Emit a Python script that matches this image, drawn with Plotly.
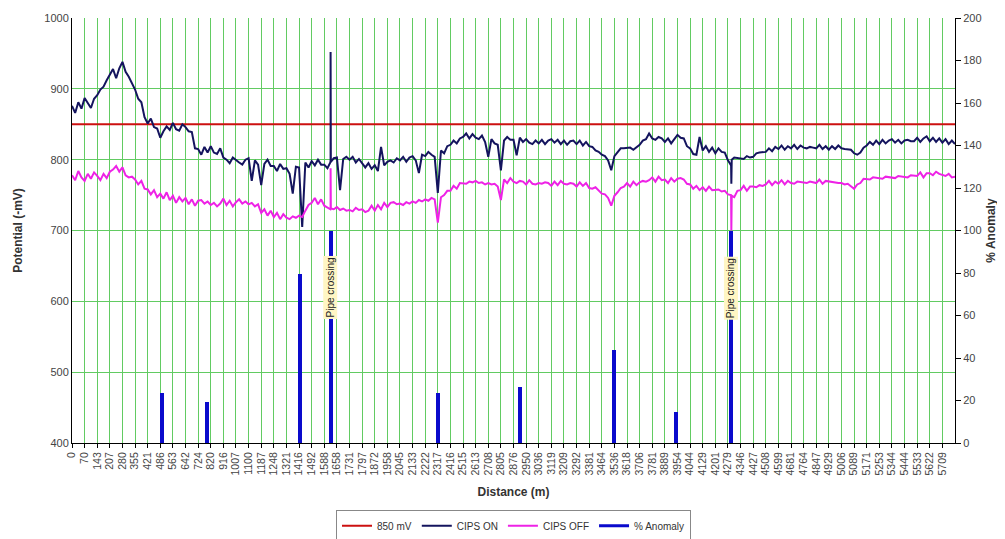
import numpy as np
import plotly.graph_objects as go

# ---- category tick labels (distance, m) ----
dist_labels = ["0", "70", "143", "207", "280", "355", "421", "486", "563", "642", "724", "820",
               "916", "1007", "1100", "1187", "1248", "1321", "1416", "1492", "1588", "1658",
               "1731", "1797", "1872", "1958", "2045", "2133", "2222", "2317", "2416", "2515",
               "2613", "2708", "2805", "2876", "2950", "3036", "3119", "3209", "3292", "3381",
               "3464", "3536", "3618", "3706", "3781", "3889", "3954", "4044", "4129", "4201",
               "4279", "4346", "4427", "4508", "4599", "4681", "4764", "4847", "4929", "5006",
               "5089", "5171", "5253", "5344", "5444", "5533", "5622", "5709"]

# ---- CIPS ON potential (-mV), 4 readings per labelled interval ----
cips_on = [876, 866, 881, 872, 887, 880, 873, 886, 891, 899, 903, 912, 920, 928, 915, 929,
           938, 924, 917, 908, 899, 886, 881, 860, 851, 858, 846, 844, 831, 840, 847, 842,
           852, 843, 841, 850, 846, 840, 839, 816, 815, 807, 818, 810, 819, 810, 808, 816,
           803, 800, 795, 803, 799, 796, 793, 800, 802, 770, 799, 793, 764, 794, 800, 791,
           791, 784, 794, 787, 788, 780, 752, 790, 789, 705, 796, 789, 798, 792, 800, 793,
           793, 788, 799, 802, 803, 757, 801, 804, 800, 804, 796, 801, 795, 789, 795, 787,
           792, 784, 818, 792, 797, 799, 796, 802, 799, 804, 797, 803, 805, 799, 781, 807,
           805, 811, 807, 804, 753, 813, 809, 819, 821, 827, 823, 830, 832, 837, 830, 836,
           831, 829, 834, 825, 804, 829, 823, 821, 785, 827, 832, 828, 828, 806, 831, 825,
           829, 824, 822, 827, 823, 828, 822, 827, 829, 824, 828, 822, 827, 821, 826, 827,
           822, 827, 820, 825, 819, 818, 813, 811, 807, 805, 799, 785, 805, 811, 816, 816,
           817, 817, 814, 818, 821, 827, 829, 837, 830, 828, 832, 830, 825, 830, 823, 829,
           835, 831, 830, 819, 816, 808, 807, 832, 813, 819, 811, 817, 809, 816, 811, 810,
           799, 791, 803, 802, 802, 801, 805, 803, 804, 809, 810, 810, 811, 816, 812, 818,
           815, 820, 814, 819, 816, 821, 815, 820, 817, 816, 818, 817, 816, 821, 815, 819,
           814, 819, 815, 820, 816, 815, 815, 814, 809, 807, 810, 817, 820, 825, 821, 827,
           822, 828, 823, 827, 829, 824, 828, 823, 827, 828, 826, 826, 831, 825, 830, 833,
           826, 831, 825, 830, 824, 829, 822, 827, 822]

# ---- CIPS OFF potential (-mV) ----
cips_off = [778, 771, 784, 775, 770, 780, 773, 782, 777, 771, 780, 774, 783, 786, 791, 783,
            789, 778, 775, 776, 772, 765, 770, 759, 758, 751, 757, 747, 752, 745, 754, 743,
            749, 739, 747, 741, 746, 737, 744, 735, 742, 743, 738, 741, 736, 739, 734, 738,
            745, 736, 742, 734, 740, 744, 738, 741, 737, 739, 734, 737, 725, 730, 721, 728,
            719, 725, 716, 723, 718, 716, 720, 718, 721, 719, 728, 736, 739, 746, 737, 744,
            735, 732, 732, 730, 733, 729, 731, 728, 729, 727, 732, 729, 730, 726, 728, 735,
            728, 736, 730, 739, 733, 739, 740, 737, 738, 736, 740, 738, 741, 739, 743, 741,
            744, 742, 746, 744, 711, 747, 750, 756, 756, 763, 759, 767, 767, 766, 769, 768,
            770, 767, 768, 765, 767, 765, 766, 762, 743, 772, 767, 774, 769, 767, 770, 769,
            765, 771, 766, 765, 767, 766, 768, 767, 763, 769, 764, 770, 766, 765, 767, 766,
            762, 768, 763, 767, 760, 759, 761, 757, 752, 751, 746, 735, 749, 754, 760, 762,
            767, 762, 769, 764, 768, 770, 769, 771, 775, 769, 776, 771, 772, 767, 774, 769,
            773, 774, 772, 766, 765, 759, 763, 757, 761, 756, 762, 757, 757, 758, 755, 756,
            751, 748, 747, 756, 757, 763, 756, 762, 762, 761, 764, 763, 765, 770, 764, 769,
            766, 771, 765, 770, 767, 766, 769, 768, 768, 767, 769, 768, 767, 772, 766, 770,
            769, 768, 768, 767, 767, 765, 766, 763, 759, 765, 767, 773, 773, 772, 775, 774,
            774, 773, 776, 775, 775, 774, 777, 776, 776, 775, 778, 777, 777, 782, 775, 781,
            781, 778, 783, 780, 779, 777, 780, 775, 776]

# ---- narrow spikes at the pipe crossings (category position, value) ----
on_spike_x = [20.48, 20.50, 20.52, 52.24, 52.27, 52.30]
on_spike_v = [796, 952, 797, 792, 766, 800]
off_spike_x = [20.48, 20.50, 20.52, 52.24, 52.27, 52.30]
off_spike_v = [730, 788, 731, 750, 700, 749]

# ---- % anomaly bars ----
anom_pos = [7.1, 10.67, 18.07, 20.5, 29.0, 35.5, 43.0, 47.86, 52.27]
anom_val = [23.5, 19.5, 79.5, 100, 23.5, 26.5, 44, 14.5, 100]

threshold_mv = 850
pipe_crossings = [20.5, 52.27]

# ---- build series ----
grid_x = np.arange(len(cips_on)) * 0.25


def merge(xs, vs, sx, sv):
    x = np.concatenate([xs, np.array(sx)])
    v = np.concatenate([np.array(vs, dtype=float), np.array(sv, dtype=float)])
    o = np.argsort(x, kind="stable")
    return x[o], v[o]


on_x, on_v = merge(grid_x, cips_on, on_spike_x, on_spike_v)
off_x, off_v = merge(np.arange(len(cips_off)) * 0.25, cips_off, off_spike_x, off_spike_v)

GRID = "#62CB62"
FONT = "Liberation Sans, Arial, sans-serif"

fig = go.Figure()
fig.add_trace(go.Scatter(x=[0, len(dist_labels)], y=[threshold_mv, threshold_mv], mode="lines",
                         line=dict(color="#CC1010", width=2), name="850 mV"))
fig.add_trace(go.Scatter(x=on_x, y=on_v, mode="lines", line=dict(color="#14145E", width=2),
                         name="CIPS ON"))
fig.add_trace(go.Scatter(x=off_x, y=off_v, mode="lines", line=dict(color="#EE22E6", width=2),
                         name="CIPS OFF"))
fig.add_trace(go.Bar(x=anom_pos, y=anom_val, width=0.32, marker=dict(color="#0A0ACC", line_width=0),
                     yaxis="y2", name="% Anomaly", showlegend=False))
fig.add_trace(go.Scatter(x=[None], y=[None], mode="lines", line=dict(color="#0A0ACC", width=3),
                         name="% Anomaly", yaxis="y2"))

for p in pipe_crossings:
    fig.add_annotation(x=p, y=73, xref="x", yref="y2", text="Pipe crossing", textangle=-90,
                       showarrow=False, bgcolor="#FFF6C4", borderpad=1,
                       font=dict(size=10, color="#222", family=FONT))

# the page adds an 8 px body margin, so the figure is 8 px smaller each way
fig.update_layout(
    width=997, height=531,
    margin=dict(l=64, r=50, t=10, b=96, autoexpand=False),
    paper_bgcolor="white", plot_bgcolor="white",
    font=dict(family=FONT, size=11, color="#333"),
    bargap=0,
    xaxis=dict(range=[0, len(dist_labels)], tickmode="array", automargin=False,
               tickvals=list(range(len(dist_labels))), ticktext=dist_labels,
               tickangle=-90, tickfont=dict(size=10.5, color="#444"),
               showgrid=True, gridcolor=GRID, gridwidth=1,
               showline=True, linecolor="black", linewidth=1,
               ticks="outside", ticklen=4, tickcolor="black",
               zeroline=False,
               title=dict(text="<b>Distance (m)</b>", font=dict(size=12, color="#333"), standoff=13)),
    yaxis=dict(range=[400, 1000], dtick=100, showgrid=True, gridcolor=GRID, gridwidth=1,
               showline=True, linecolor="black", linewidth=1, zeroline=False, automargin=False,
               tickfont=dict(size=11, color="#444"), ticks="",
               title=dict(text="<b>Potential (-mV)</b>", font=dict(size=12, color="#333"), standoff=19)),
    yaxis2=dict(range=[0, 200], dtick=20, overlaying="y", side="right", showgrid=False,
                showline=True, linecolor="black", linewidth=1, zeroline=False, automargin=False,
                ticks="outside", ticklen=5, tickcolor="black",
                tickfont=dict(size=11, color="#444"),
                title=dict(text="<b>% Anomaly</b>", font=dict(size=12, color="#333"), standoff=6)),
    legend=dict(orientation="h", x=0.5, xanchor="center", y=-0.158, yanchor="top",
                bordercolor="#888", borderwidth=1, bgcolor="white",
                font=dict(size=10, color="#333"), itemwidth=30, tracegroupgap=0),
)

fig.write_html("out.html")
